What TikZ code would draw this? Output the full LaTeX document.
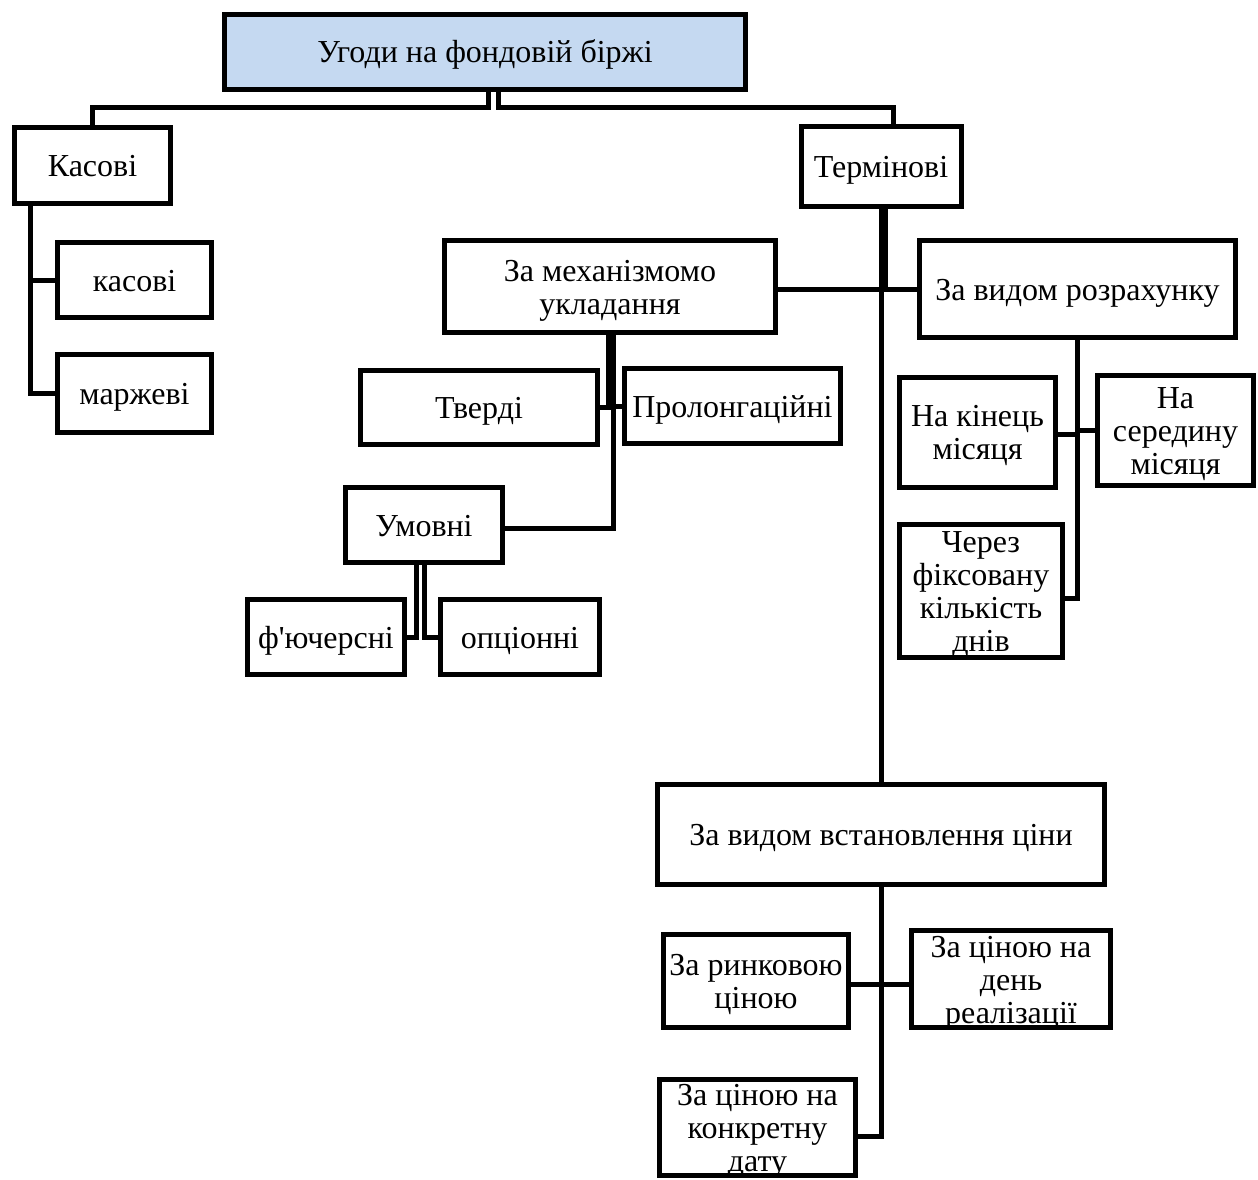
\documentclass[tikz,border=0pt]{standalone}
\usepackage{fontspec}
\setmainfont{Liberation Serif}[Ligatures=TeXOff]
\definecolor{rootfill}{RGB}{197,217,241}
% box text: #1 lines, 33pt apart, block centred on the box with the
% baselines set a little low; the text adds nothing to the box height
\newcommand\boxtext[2][1]{%
  \raisebox{\dimexpr 16.5pt*\numexpr #1-1\relax - 11pt\relax}[0pt][0pt]{%
    \begin{tabular}[t]{@{}c@{}}#2\end{tabular}}}
\tikzset{
  box/.style={draw, line width=5pt, inner sep=0pt,
    font=\fontsize{32}{33}\selectfont},
  link/.style={line width=5pt},
}
\begin{document}
\begin{tikzpicture}[x=1pt, y=-1pt]
\useasboundingbox (0,0) rectangle (1258,1180);

% boxes
\node[box, fill=rootfill, minimum width=521, minimum height=75] (root) at (485,52) {\boxtext{Угоди на фондовій біржі}};
\node[box, minimum width=156, minimum height=76] (kas) at (92.5,165.5) {\boxtext{Касові}};
\node[box, minimum width=160, minimum height=80] (term) at (881,166.5) {\boxtext{Термінові}};
\node[box, minimum width=154, minimum height=75] (kas2) at (134.5,280) {\boxtext{касові}};
\node[box, minimum width=154, minimum height=78] (marzh) at (134.5,393.5) {\boxtext{маржеві}};
\node[box, minimum width=331, minimum height=92] (mech) at (610,286.5) {\boxtext[2]{За механізмомо\\укладання}};
\node[box, minimum width=316, minimum height=97] (rozr) at (1077.5,289) {\boxtext{За видом розрахунку}};
\node[box, minimum width=237, minimum height=74] (tverdi) at (479,407.5) {\boxtext{Тверді}};
\node[box, minimum width=216, minimum height=75] (prol) at (732.5,406) {\boxtext{Пролонгаційні}};
\node[box, minimum width=157, minimum height=75] (umov) at (424,525) {\boxtext{Умовні}};
\node[box, minimum width=157, minimum height=75] (fut) at (326,637) {\boxtext{ф'ючерсні}};
\node[box, minimum width=159, minimum height=75] (opc) at (520,637) {\boxtext{опціонні}};
\node[box, minimum width=156, minimum height=110] (kin) at (977.5,432) {\boxtext[2]{На кінець\\місяця}};
\node[box, minimum width=156, minimum height=110] (ser) at (1175.5,430) {\boxtext[3]{На\\середину\\місяця}};
\node[box, minimum width=163, minimum height=133] (cherez) at (981,591) {\boxtext[4]{Через\\фіксовану\\кількість\\днів}};
\node[box, minimum width=447, minimum height=100] (vst) at (881,834.5) {\boxtext{За видом встановлення ціни}};
\node[box, minimum width=185, minimum height=93] (ryn) at (756,981) {\boxtext[2]{За ринковою\\ціною}};
\node[box, minimum width=199, minimum height=97] (den) at (1011,979) {\boxtext[3]{За ціною на\\день\\реалізації}};
\node[box, minimum width=196, minimum height=96] (konk) at (757.5,1127.5) {\boxtext[3]{За ціною на\\конкретну\\дату}};

% connectors
\draw[link] ([xshift=3pt]root.south) -- ++(0,16) -| (kas.north);
\draw[link] ([xshift=13pt]root.south) -- ++(0,16) -| ([xshift=12pt]term.north);

\draw[link] ([xshift=-62pt]kas.south) |- (kas2.west);
\draw[link] ([xshift=-62pt]kas.south) |- (marzh.west);

\draw[link] (term.south) -- (vst.north);
\draw[link] (term.south) |- ([yshift=-3pt]mech.east);
\draw[link] ([xshift=4pt]term.south) |- (rozr.west);

\draw[link] ([xshift=-2pt]mech.south) |- (tverdi.east);
\draw[link] ([xshift=2pt]mech.south) |- (prol.west);
\draw[link] ([xshift=3pt]mech.south) |- ([yshift=-3pt]umov.east);

\draw[link] ([xshift=-8pt]umov.south) |- (fut.east);
\draw[link] (umov.south) |- (opc.west);

\draw[link] (rozr.south) |- ([yshift=-2pt]kin.east);
\draw[link] (rozr.south) |- (ser.west);
\draw[link] (rozr.south) |- ([yshift=-7pt]cherez.east);

\draw[link] (vst.south) |- ([yshift=-3pt]ryn.east);
\draw[link] (vst.south) |- ([yshift=-5pt]den.west);
\draw[link] (vst.south) |- ([yshift=-9pt]konk.east);
\end{tikzpicture}
\end{document}
